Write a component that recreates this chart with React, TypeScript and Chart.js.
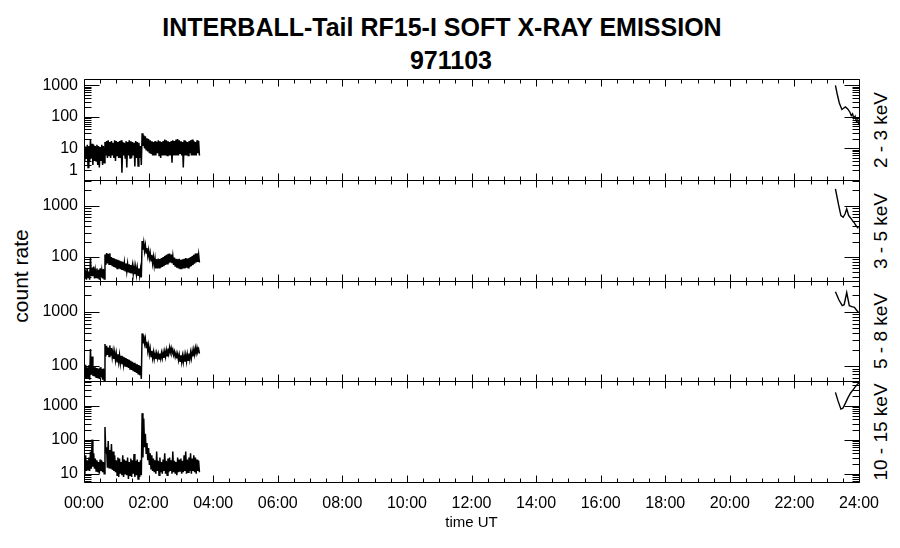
import React, { useEffect, useRef } from 'react';
import { Chart, registerables } from 'chart.js';

Chart.register(...registerables);

// ---------------- data ----------------
// Sampling step of the early-day record (hours) – each sample has a high and a low value of the noisy band
const STEP_H = 0.05;

// 2 - 3 keV
const HI_2_3 = [
  12, 11, 13, 12, 20, 14, 13, 12, 13, 12, 11, 13, 12,
  16, 17, 18, 16, 17, 15, 18, 17, 16, 17, 18, 16, 15, 17, 16, 18, 17, 16, 15, 17, 16, 15,
  12,
  30, 26, 24, 21, 20, 18, 17, 16,
  17, 16, 18, 17, 16, 17, 19, 18, 17, 16, 17, 18, 17, 19, 20, 18, 17, 16, 18, 17, 16, 17, 18, 19, 17, 16, 18, 17,
];
const LO_2_3 = [
  4, 5, 2.5, 4, 5, 3, 4, 4, 3, 2.5, 4, 3, 3.5,
  6, 5, 6, 5, 6, 5, 4, 6, 5, 5, 1.7, 6, 5, 2.5, 6, 5, 5, 6, 2.7, 5, 2.8, 5,
  3,
  12, 10, 9, 8, 7, 7, 6, 6,
  6, 7, 6, 5, 6, 6, 6, 6, 6, 6, 3.5, 6, 6, 6, 6, 7, 6, 2.5, 6, 6, 6, 7, 6, 6, 6, 6, 7, 6,
];
const END_T_2_3 = [23.27, 23.33, 23.39, 23.47, 23.53, 23.58, 23.65, 23.72, 23.76, 23.8, 23.84, 23.88, 23.92, 23.96, 24.0];
const END_V_2_3 = [1000, 500, 276, 171, 190, 207, 179, 140, 110, 125, 90, 105, 72, 80, 55];

// 3 - 5 keV
const HI_3_5 = [
  55, 50, 60, 52, 97, 62, 65, 55, 60, 56, 60, 55, 58,
  112, 120, 115, 118,
  100, 95, 92, 90, 88, 85, 82, 80, 78, 75, 73, 72, 70, 68, 66, 64, 62, 60, 58,
  206, 190, 170, 150, 135, 120, 110, 100,
  92, 90, 93, 92, 95, 100, 105,
  110, 115, 117, 112, 105, 98, 92,
  90, 92, 88, 90, 92, 95, 93, 96,
  100, 105, 110, 117, 118, 112,
];
const LO_3_5 = [
  38, 36, 40, 36, 42, 42, 38, 40, 38, 36, 40, 38, 37,
  70, 75, 72, 70,
  66, 64, 62, 60, 60, 58, 56, 55, 54, 52, 50, 50, 48, 47, 46, 45, 44, 43, 40,
  140, 130, 120, 105, 95, 85, 75, 68,
  60, 60, 62, 62, 64, 66, 70,
  74, 76, 78, 76, 70, 65, 62,
  60, 60, 58, 60, 60, 62, 62, 64,
  66, 70, 74, 78, 80, 78,
];
const END_T_3_5 = [23.27, 23.36, 23.44, 23.51, 23.57, 23.62, 23.68, 23.74, 23.8, 23.86, 23.92, 23.98];
const END_V_3_5 = [2155, 1100, 646, 598, 700, 873, 646, 580, 515, 460, 400, 364];

// 5 - 8 keV
const HI_5_8 = [
  100, 105, 95, 103, 206, 150, 97, 95, 92, 90, 95, 88, 90,
  254, 235, 220, 240, 215,
  190, 180, 170, 165, 160, 155, 150, 145, 140, 135, 130, 125, 120, 115, 110, 108, 104, 100,
  400, 370, 320, 280, 240, 210, 190, 180,
  170, 172, 168, 170, 175, 178, 185,
  195, 210, 221, 215, 200, 185, 172,
  165, 160, 158, 155, 158, 160, 165, 170,
  178, 188, 200, 215, 221, 205,
];
const LO_5_8 = [
  60, 58, 62, 56, 70, 66, 64, 62, 60, 58, 62, 56, 55,
  150, 160, 150, 155, 145,
  135, 128, 120, 118, 112, 108, 105, 100, 96, 92, 88, 85, 80, 78, 75, 72, 68, 58,
  260, 260, 220, 190, 165, 150, 140, 135,
  135, 138, 135, 138, 140, 142, 148,
  155, 170, 180, 175, 160, 148, 138,
  128, 122, 118, 118, 120, 122, 128, 132,
  140, 150, 162, 175, 185, 170,
];
const END_T_5_8 = [23.27, 23.38, 23.48, 23.54, 23.62, 23.7, 23.78, 23.86, 23.92, 23.98];
const END_V_5_8 = [2340, 1650, 1300, 1350, 2270, 1300, 1250, 1210, 1080, 983];

// 10 - 15 keV
const HI_10_15 = [
  28, 35, 25, 30, 45, 101, 40, 28, 25, 22, 26, 24, 22,
  238, 60, 92, 50, 75, 45, 35,
  25, 30, 28, 22, 35, 26, 24, 30, 22, 28, 25, 38, 24, 26, 22, 25,
  610, 420, 150, 80, 57, 40, 35,
  28, 25, 45, 24, 30, 22, 26, 40, 24, 28, 30, 25, 45, 24, 22, 30, 26, 28, 24, 35, 45, 26, 30, 40, 28, 35, 30, 26, 24,
];
const LO_10_15 = [
  9, 12, 13, 12, 14, 16, 14, 12, 11, 10, 12, 11, 10,
  40, 15, 15, 14, 13, 12, 11,
  9, 8, 10, 9, 8, 10, 9, 7, 9, 8, 10, 8, 9, 7, 8, 9,
  30, 60, 40, 25, 18, 14, 12,
  11, 10, 12, 9, 11, 10, 12, 10, 9, 11, 12, 10, 11, 10, 9, 11, 12, 10, 11, 12, 10, 11, 12, 10, 12, 11, 10, 12, 11,
];
const END_T_10_15 = [23.27, 23.35, 23.44, 23.5, 23.58, 23.66, 23.74, 23.82, 23.9, 24.0];
const END_V_10_15 = [2500, 1400, 800, 850, 1200, 1750, 2400, 3000, 3800, 4800];

const BAND_LABELS = ['2 - 3 keV', '3 - 5 keV', '5 - 8 keV', '10 - 15 keV'];
const Y_MIN = [1, 34, 53, 5.7];
const Y_MAX = [1580, 3200, 3700, 5400];
const HOUR_TICKS = [0, 2, 4, 6, 8, 10, 12, 14, 16, 18, 20, 22, 24];
const TITLE_LINE_1 = 'INTERBALL-Tail RF15-I SOFT X-RAY EMISSION';
const TITLE_LINE_2 = '971103';
const Y_TITLE = 'count rate';
const X_TITLE = 'time UT';

// ---------------- layout ----------------
const W = 900;
const H = 548;
const PLOT_LEFT = 84;
const PLOT_RIGHT = 859;
const PANEL_EDGES = [79, 180, 281, 381, 482];
const FONT = 'Liberation Sans, Arial, Helvetica, sans-serif';

const bandPoints = (hi: number[], lo: number[]) => {
  const pts: { x: number; y: number }[] = [];
  for (let i = 0; i < hi.length; i++) {
    pts.push({ x: i * STEP_H, y: hi[i] });
    pts.push({ x: i * STEP_H + STEP_H / 2, y: lo[i] });
  }
  return pts;
};

const PANELS = [
  { hi: HI_2_3, lo: LO_2_3, endT: END_T_2_3, endV: END_V_2_3 },
  { hi: HI_3_5, lo: LO_3_5, endT: END_T_3_5, endV: END_V_3_5 },
  { hi: HI_5_8, lo: LO_5_8, endT: END_T_5_8, endV: END_V_5_8 },
  { hi: HI_10_15, lo: LO_10_15, endT: END_T_10_15, endV: END_V_10_15 },
];

const framePlugin = {
  id: 'idlFrame',
  afterDatasetsDraw(chart: any) {
    const { ctx, chartArea: a, scales } = chart;
    const xs = scales.x;
    const ys = scales.y;
    const L = Math.round(a.left) + 0.5;
    const R = Math.round(a.right) + 0.5;
    const T = Math.round(a.top) + 0.5;
    const B = Math.round(a.bottom) + 0.5;
    ctx.save();
    ctx.strokeStyle = '#000';
    ctx.lineWidth = 1;
    ctx.beginPath();
    ctx.rect(L, T, R - L, B - T);
    // x ticks (inward, top and bottom)
    for (let t = 0; t <= 24.0001; t += 0.5) {
      const px = Math.round(xs.getPixelForValue(t)) + 0.5;
      const len = Math.abs(t % 2) < 1e-6 ? 7 : 4;
      ctx.moveTo(px, T);
      ctx.lineTo(px, T + len);
      ctx.moveTo(px, B);
      ctx.lineTo(px, B - len);
    }
    // y ticks (log, inward, left and right)
    const mn = ys.min;
    const mx = ys.max;
    for (let e = Math.floor(Math.log10(mn)); e <= Math.ceil(Math.log10(mx)); e++) {
      for (let m = 1; m <= 9; m++) {
        const v = m * Math.pow(10, e);
        if (v < mn * 0.999 || v > mx * 1.001) continue;
        const py = Math.round(ys.getPixelForValue(v)) + 0.5;
        const len = m === 1 ? 15 : 7;
        ctx.moveTo(L, py);
        ctx.lineTo(L + len, py);
        ctx.moveTo(R, py);
        ctx.lineTo(R - len, py);
      }
    }
    ctx.stroke();
    ctx.restore();
  },
};

function Panel({ index }: { index: number }) {
  const ref = useRef<HTMLCanvasElement | null>(null);
  useEffect(() => {
    if (!ref.current) return;
    const p = PANELS[index];
    const isLast = index === PANELS.length - 1;
    const lineStyle = {
      borderColor: '#000',
      pointRadius: 0,
      fill: false,
      tension: 0,
    };
    const chart = new Chart(ref.current, {
      type: 'line',
      data: {
        datasets: [
          { ...lineStyle, borderWidth: 1.5, data: bandPoints(p.hi, p.lo) },
          { ...lineStyle, borderWidth: 1.4, data: p.endT.map((t, i) => ({ x: t, y: p.endV[i] })) },
        ],
      },
      options: {
        animation: false,
        responsive: false,
        events: [],
        layout: {
          padding: {
            top: PANEL_EDGES[index],
            bottom: isLast ? 0 : H - PANEL_EDGES[index + 1],
            left: 0,
            right: W - PLOT_RIGHT,
          },
        },
        plugins: {
          legend: { display: false },
          tooltip: { enabled: false },
          title: { display: false },
        },
        scales: {
          x: {
            type: 'linear',
            min: 0,
            max: 24,
            display: isLast,
            afterFit: (s: any) => {
              s.height = isLast ? H - PANEL_EDGES[4] : 0;
            },
            afterBuildTicks: (s: any) => {
              s.ticks = HOUR_TICKS.map((v) => ({ value: v }));
            },
            grid: { display: false, drawTicks: false },
            border: { display: false },
            ticks: {
              autoSkip: false,
              maxRotation: 0,
              padding: 12,
              color: '#000',
              font: { family: FONT, size: 16 },
              callback: (v: any) => String(v).padStart(2, '0') + ':00',
            },
            title: {
              display: true,
              text: X_TITLE,
              color: '#000',
              font: { family: FONT, size: 15 },
              padding: { top: 0, bottom: 16 },
            },
          },
          y: {
            type: 'logarithmic',
            min: Y_MIN[index],
            max: Y_MAX[index],
            afterFit: (s: any) => {
              s.width = PLOT_LEFT;
            },
            afterBuildTicks: (s: any) => {
              const out: { value: number }[] = [];
              for (let e = -2; e <= 6; e++) {
                const v = Math.pow(10, e);
                if (v >= Y_MIN[index] * 0.999 && v <= Y_MAX[index] * 1.001) out.push({ value: v });
              }
              s.ticks = out;
            },
            grid: { display: false, drawTicks: false },
            border: { display: false },
            ticks: {
              autoSkip: false,
              padding: 6,
              color: '#000',
              font: { family: FONT, size: 16 },
              callback: (v: any) => (Number(v) === Y_MIN[index] ? [String(Number(v)), ''] : String(Number(v))),
            },
          },
        },
      } as any,
      plugins: [framePlugin],
    });
    return () => chart.destroy();
  }, [index]);
  return (
    <canvas
      ref={ref}
      width={W}
      height={H}
      style={{ position: 'absolute', left: 0, top: 0, width: W, height: H }}
    />
  );
}

export default function App() {
  const centers = PANEL_EDGES.slice(0, 4).map((t, i) => (t + PANEL_EDGES[i + 1]) / 2);
  return (
    <div
      style={{
        position: 'fixed',
        left: 0,
        top: 0,
        width: W,
        height: H,
        background: '#fff',
        overflow: 'hidden',
        fontFamily: FONT,
        color: '#000',
      }}
    >
      <div
        style={{
          position: 'absolute',
          left: 0,
          width: 884,
          top: 15,
          textAlign: 'center',
          fontWeight: 'bold',
          fontSize: 25,
          lineHeight: '25px',
          whiteSpace: 'nowrap',
        }}
      >
        {TITLE_LINE_1}
      </div>
      <div
        style={{
          position: 'absolute',
          left: 0,
          width: 902,
          top: 48,
          textAlign: 'center',
          fontWeight: 'bold',
          fontSize: 25,
          lineHeight: '25px',
        }}
      >
        {TITLE_LINE_2}
      </div>
      <div
        style={{
          position: 'absolute',
          left: 20,
          top: 276,
          transform: 'translate(-50%, -50%) rotate(-90deg)',
          fontSize: 21,
          lineHeight: '21px',
          whiteSpace: 'nowrap',
        }}
      >
        {Y_TITLE}
      </div>
      {BAND_LABELS.map((lab, i) => (
        <div
          key={lab}
          style={{
            position: 'absolute',
            left: 880,
            top: centers[i],
            transform: 'translate(-50%, -50%) rotate(-90deg)',
            fontSize: 19,
            lineHeight: '19px',
            whiteSpace: 'nowrap',
          }}
        >
          {lab}
        </div>
      ))}
      {PANELS.map((_, i) => (
        <Panel key={i} index={i} />
      ))}
    </div>
  );
}
